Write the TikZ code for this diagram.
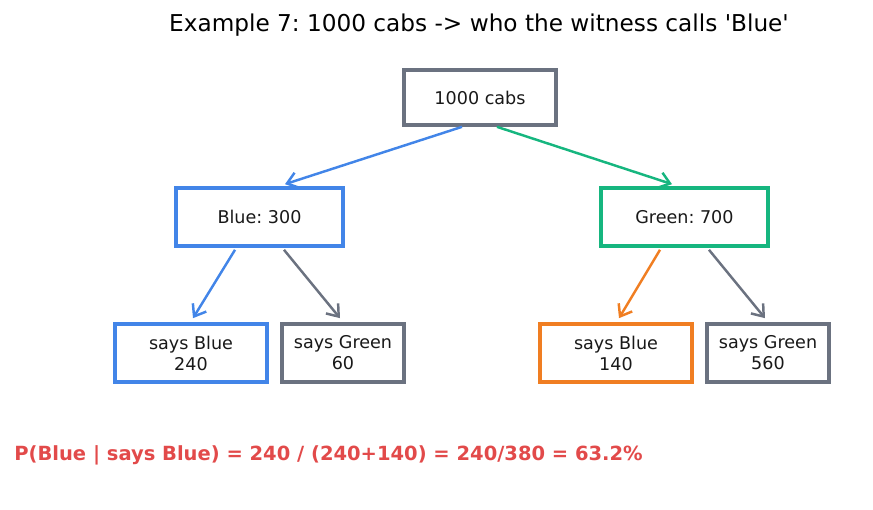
\documentclass[tikz,border=0pt]{standalone}
\usepackage{fontspec}
\setmainfont{DejaVu Sans}
\usetikzlibrary{arrows.meta}
\definecolor{cabblue}{HTML}{4285E8}
\definecolor{cabgreen}{HTML}{16B67F}
\definecolor{cabgray}{HTML}{6B7280}
\definecolor{caborange}{HTML}{F07E22}
\definecolor{cabred}{HTML}{E24A4A}
\frenchspacing

\begin{document}
\begin{tikzpicture}[x=0.02cm, y=-0.02cm,
	box/.style = {draw=#1, line width=2.1pt, fill=white, text=black!90,
		minimum height=1.16cm, align=center,
		font=\fontsize{10}{12}\selectfont},
	link/.style = {line width=1.4pt, -{Straight Barb[length=6pt,width=9pt]}}]
	
	\useasboundingbox (0,0) rectangle (873,510);
	
	% Title
	\node (title) at (479,25.5) {\fontsize{13.2}{15}\selectfont Example 7: 1000 cabs -> who the witness calls \textquotesingle Blue\textquotesingle};
	
	% Root
	\node[box=cabgray, minimum width=3.04cm, minimum height=1.1cm] (cabs) at (480,97.5) {1000 cabs};
	
	% Level 1
	\node[box=cabblue, minimum width=3.34cm] (blue) at (259.5,217) {Blue: 300};
	\node[box=cabgreen, minimum width=3.34cm] (green) at (684.5,217) {Green: 700};
	
	% Level 2
	\node[box=cabblue, minimum width=3.04cm] (bb) at (191,353) {says Blue\\240};
	\node[box=cabgray, minimum width=2.44cm] (bg) at (343,353) {says Green\\60};
	\node[box=caborange, minimum width=3.04cm] (gb) at (616,353) {says Blue\\140};
	\node[box=cabgray, minimum width=2.44cm] (gg) at (768,353) {says Green\\560};
	
	% Arrows
	\draw[link, cabblue] ([xshift=-0.36cm]cabs.south) -- ([xshift=0.51cm, yshift=0.04cm]blue.north);
	\draw[link, cabgreen] ([xshift=0.34cm]cabs.south) -- ([xshift=-0.25cm, yshift=0.04cm]green.north);
	\draw[link, cabblue] ([xshift=-0.49cm, yshift=-0.04cm]blue.south) -- ([xshift=0.04cm, yshift=0.08cm]bb.north);
	\draw[link, cabgray] ([xshift=0.49cm, yshift=-0.04cm]blue.south) -- ([xshift=-0.06cm, yshift=0.08cm]bg.north);
	\draw[link, caborange] ([xshift=-0.49cm, yshift=-0.04cm]green.south) -- ([xshift=0.06cm, yshift=0.08cm]gb.north);
	\draw[link, cabgray] ([xshift=0.49cm, yshift=-0.04cm]green.south) -- ([xshift=-0.06cm, yshift=0.08cm]gg.north);
	
	% Result
	\node[anchor=west, inner sep=0pt, text=cabred, font=\fontsize{11.1}{13}\selectfont\bfseries] (result) at (14,455.5) {P(Blue | says Blue) = 240 / (240+140) = 240/380 = 63.2\%};
	
\end{tikzpicture}
\end{document}
